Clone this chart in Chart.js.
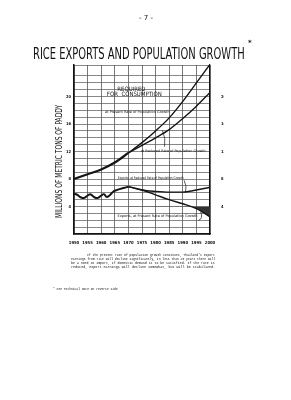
<!DOCTYPE html>
<html><head><meta charset="utf-8">
<script src="https://cdn.jsdelivr.net/npm/chart.js@4/dist/chart.umd.min.js"></script>
<style>
html,body{margin:0;padding:0;background:#fff;}
#wrap{position:relative;width:291px;height:400px;overflow:hidden;background:#fff;}
canvas{position:absolute;left:0;top:0;}
.t{position:absolute;white-space:nowrap;color:#111;transform-origin:0 0;line-height:1;}
</style></head>
<body><div id="wrap">
<canvas id="c" width="291" height="400"></canvas>
<div class="t" id="pg" style="left:139px;top:14px;font:7px 'DejaVu Sans';">- 7 -</div>
<div class="t" id="title" style="left:33px;top:45px;font:15px 'DejaVu Sans Condensed';letter-spacing:0px;">RICE EXPORTS AND POPULATION GROWTH</div>
<div class="t" id="ast" style="left:248px;top:39px;font:bold 7px 'DejaVu Sans';">*</div>
<div class="t" id="ytitle" style="left:54px;top:218px;font:9px 'DejaVu Sans Condensed';transform:rotate(-90deg);">MILLIONS OF METRIC TONS OF PADDY</div>
<div class="t" id="p1" style="left:87px;top:253px;font:3.6px 'Liberation Mono';">If the present rate of population growth continues, Thailand's export</div>
<div class="t" id="p2" style="left:71px;top:257px;font:3.6px 'Liberation Mono';">earnings from rice will decline significantly, in less than 25 years there will</div>
<div class="t" id="p3" style="left:71px;top:261px;font:3.6px 'Liberation Mono';">be a need to import, if domestic demand is to be satisfied. If the rate is</div>
<div class="t" id="p4" style="left:71px;top:265px;font:3.6px 'Liberation Mono';">reduced, export earnings will decline somewhat, but will be stabilized.</div>
<div class="t" id="fn" style="left:53px;top:287px;font:3.6px 'Liberation Mono';">* See Technical Note on reverse side</div>
</div>
<script>
// ---- data ----
const baseYears = [1950, 1955, 1960, 1965, 1970];
const consumptionBase = [8.0, 8.7, 9.4, 10.4, 11.8];
const projYears = [1970, 1975, 1980, 1985, 1990, 1995, 2000];
const consumptionPresent = [11.8, 13.3, 15.0, 16.9, 19.3, 22.0, 24.7];
const consumptionReduced = [11.8, 12.9, 14.0, 15.2, 16.8, 18.6, 20.6];
const exportYears = [1950,1951,1952,1953,1954,1955,1956,1957,1958,1959,1960,1961,1962,1963,1964,1965,1970];
const exportsActual = [5.85,5.75,5.45,5.25,5.3,5.6,5.8,5.5,5.25,5.3,5.6,5.8,5.4,5.6,6.0,6.3,6.9];
const exportsReduced = [6.9, 6.4, 6.2, 6.1, 6.1, 6.4, 6.8];
const exportsPresent = [6.9, 6.4, 5.7, 5.0, 4.4, 3.7, 2.5];
const xTicks = [1950,1955,1960,1965,1970,1975,1980,1985,1990,1995,2000];
const yLabelTicks = [4, 8, 12, 16, 20, 24];
const importLevel = 4;

const pts = (xs, ys) => xs.map((x, i) => ({x, y: ys[i]}));

const INK = '#151515';
const ds = (data, w, extra) => Object.assign({data, borderColor: INK, borderWidth: w, pointRadius: 0, fill: false, tension: 0.35, cubicInterpolationMode: 'monotone'}, extra || {});

const labels = {
  id: 'labels',
  afterDatasetsDraw(chart) {
    const {ctx, scales: {x, y}} = chart;
    ctx.save();
    ctx.fillStyle = INK;
    ctx.textAlign = 'center';
    ctx.textBaseline = 'middle';
    const put = (txt, xv, yv, font, w) => { ctx.font = font; ctx.fillText(txt, x.getPixelForValue(xv), y.getPixelForValue(yv), w); };
    put('REQUIRED', 1971.1, 21.05, '6px "DejaVu Sans Condensed"', 29);
    put('FOR  CONSUMPTION', 1972.2, 20.25, '6px "DejaVu Sans Condensed"', 57);
    const f = '3.5px "DejaVu Sans"';
    put('at Present Rate of Population Growth', 1973.3, 17.8, f, 69);
    put('at Reduced Rate of Population Growth', 1986.5, 12.1, f, 65);
    put('Exports, at Reduced Rate of Population Growth', 1978.2, 8.2, f, 66);
    put('Exports, at Present Rate of Population Growth', 1980.7, 2.6, f, 81);
    // leader lines
    ctx.strokeStyle = INK; ctx.lineWidth = 0.7;
    const P = (xv, yv) => [x.getPixelForValue(xv), y.getPixelForValue(yv)];
    const lead = (a, b, c) => { ctx.beginPath(); ctx.moveTo(...P(...a)); ctx.quadraticCurveTo(...P(...b), ...P(...c)); ctx.stroke(); };
    lead([1982.5, 15.1], [1983.8, 14.0], [1983.3, 12.7]);
    lead([1991.0, 6.1], [1991.6, 7.0], [1990.5, 7.8]);
    lead([1996.6, 3.2], [1997.5, 2.2], [1995.8, 2.0]);
    ctx.restore();
  }
};

const tickFont = {family: 'DejaVu Sans Condensed', size: 4, weight: 'bold'};

new Chart(document.getElementById('c'), {
  type: 'line',
  data: {
    datasets: [
      ds(pts(baseYears, consumptionBase), 2.2),
      ds(pts(projYears, consumptionPresent), 1.4),
      ds(pts(projYears, consumptionReduced), 1.4),
      ds(pts(exportYears, exportsActual), 2.0, {tension: 0.4, cubicInterpolationMode: 'default'}),
      ds(pts(projYears, exportsReduced), 1.4),
      ds(pts(projYears, exportsPresent), 1.4, {fill: {target: {value: importLevel}, above: 'rgba(0,0,0,0)', below: '#333'}})
    ]
  },
  options: {
    responsive: false, animation: false, devicePixelRatio: 1,
    layout: {padding: {left: 60, right: 67, top: 65, bottom: 152}},
    plugins: {legend: {display: false}, tooltip: {enabled: false}},
    scales: {
      x: {
        type: 'linear', min: 1950, max: 2000,
        afterBuildTicks: s => { s.ticks = xTicks.map(v => ({value: v})); },
        afterFit: s => { s.height = 14; },
        grid: {color: '#555', lineWidth: 0.8, drawTicks: false},
        border: {color: '#111', width: 1.5},
        ticks: {color: '#111', font: {family: 'DejaVu Sans Condensed', size: 4.2, weight: 'bold'}, padding: 6, maxRotation: 0, autoSkip: false, callback: v => String(v)}
      },
      y: {
        type: 'linear', min: 0, max: 24.6, position: 'left',
        afterFit: s => { s.width = 14; },
        ticks: {stepSize: 1, color: '#111', font: tickFont, padding: 3, autoSkip: false,
          callback: v => yLabelTicks.includes(v) ? String(v) : ''},
        grid: {color: '#555', lineWidth: 0.7, drawTicks: false},
        border: {color: '#111', width: 1.5}
      },
      y2: {
        type: 'linear', min: 0, max: 24.6, position: 'right',
        afterFit: s => { s.width = 14; },
        ticks: {stepSize: 1, color: '#111', font: tickFont, padding: 3, autoSkip: false,
          callback: v => yLabelTicks.includes(v) ? String(v) : ''},
        grid: {display: false},
        border: {color: '#111', width: 1.2}
      }
    }
  },
  plugins: [labels]
});

function fit(id, w) { const el = document.getElementById(id); const s = w / el.offsetWidth; el.style.transform = (el.style.transform || '') + ` scaleX(${s})`; }
fit('title', 212);
fit('p1', 128); fit('p2', 144); fit('p3', 144); fit('p4', 144); fit('fn', 65);
(function(){ const el = document.getElementById('ytitle'); const s = 113 / el.offsetWidth; el.style.transform = `rotate(-90deg) scaleX(${s})`; })();
</script>
</body></html>
